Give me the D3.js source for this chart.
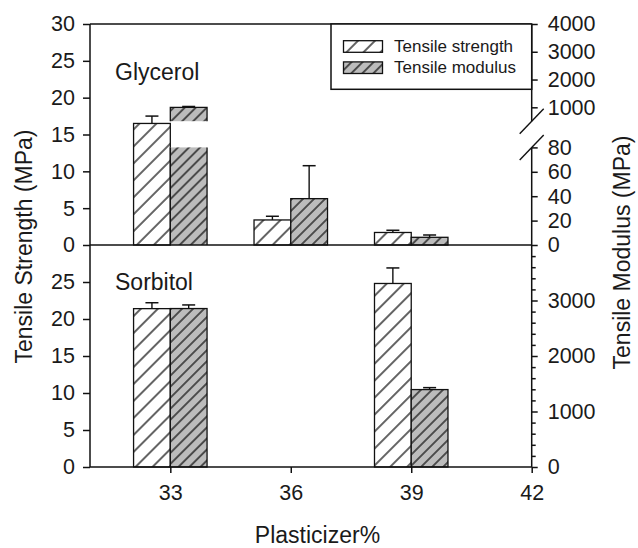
<!DOCTYPE html>
<html>
<head>
<meta charset="utf-8">
<script src="https://cdn.jsdelivr.net/npm/d3@7"></script>
<style>
  html, body { margin: 0; padding: 0; background: #fff; }
  svg text { font-family: "Liberation Sans", Arial, sans-serif; fill: #1a1a1a; }
</style>
</head>
<body>
<svg id="chart" width="638" height="548"></svg>
<script>
// ---- data ----
const plasticizer = [33, 36, 39];
const glyStrength = [16.5, 3.4, 1.7];
const glyStrengthErr = [1.0, 0.5, 0.3];
const glyModulus = [1000, 38, 6.3];
const glyModulusErr = [30, 27, 1.9];
const sorStrength = [21.4, null, 24.8];
const sorStrengthErr = [0.8, null, 2.1];
const sorModulus = [2855, null, 1395];
const sorModulusErr = [65, null, 35];

const xTickValues = [33, 36, 39, 42];
const strengthTicksTop = [0, 5, 10, 15, 20, 25, 30];
const strengthTicksBottom = [0, 5, 10, 15, 20, 25];
const modulusTicksTop = [0, 20, 40, 60, 80, 1000, 2000, 3000, 4000];
const modulusTicksBottom = [0, 1000, 2000, 3000];
const modulusMinorBottom = d3.range(200, 4000, 200).filter(v => v % 1000 !== 0);
const modulusBreak = [80, 500]; // axis break on the upper modulus axis
const seriesNames = ["Tensile strength", "Tensile modulus"];
const panelNames = ["Glycerol", "Sorbitol"];

// ---- layout ----
const svg = d3.select("#chart");
const left = 90, right = 531.7;
const topY = 24, midY = 245, botY = 467;

const x = d3.scaleLinear().domain([31, 42]).range([left, right]);
const barW = x(31.915) - x(31);

const yStrTop = d3.scaleLinear().domain([0, 30]).range([midY, topY]);
const yStrBot = d3.scaleLinear().domain([0, 30]).range([botY, midY]);
const yModBot = d3.scaleLinear().domain([0, 4000]).range([botY, midY]);
// broken axis: 0–80 on the lower part, 500–4000 on the upper part
const yModTop = d3.scaleLinear()
  .domain([0, modulusBreak[0], modulusBreak[1], 4000])
  .range([midY, midY - 97.6, midY - 123.8, topY]);

const fmt = d3.format("d");

// ---- hatch patterns ----
const defs = svg.append("defs");
function hatch(id, bg, spacing) {
  const p = defs.append("pattern")
    .attr("id", id).attr("patternUnits", "userSpaceOnUse")
    .attr("width", spacing).attr("height", spacing)
    .attr("patternTransform", "rotate(45)");
  p.append("rect").attr("width", spacing).attr("height", spacing).attr("fill", bg);
  p.append("line").attr("x1", spacing / 2).attr("x2", spacing / 2)
    .attr("y1", -1).attr("y2", spacing + 1)
    .attr("stroke", "#111").attr("stroke-width", 1.3);
}
hatch("hatchStrength", "#ffffff", 12);
hatch("hatchModulus", "#bcbcbc", 7.8);
const fills = ["url(#hatchStrength)", "url(#hatchModulus)"];

const gBars = svg.append("g");

function drawBar(x0, yBase, yTop, fill, gap) {
  const x1 = x0 + barW;
  if (!gap) {
    gBars.append("rect").attr("x", x0).attr("y", yTop)
      .attr("width", barW).attr("height", yBase - yTop)
      .attr("fill", fill).attr("stroke", "#111").attr("stroke-width", 1.3);
    return;
  }
  // bar passing through the axis break: two filled pieces, open at the break
  const [gLow, gHigh] = gap; // pixel y of lower / upper edge of the break
  gBars.append("rect").attr("x", x0).attr("y", gLow)
    .attr("width", barW).attr("height", yBase - gLow).attr("fill", fill);
  gBars.append("rect").attr("x", x0).attr("y", yTop)
    .attr("width", barW).attr("height", gHigh - yTop).attr("fill", fill);
  const p = d3.path();
  p.moveTo(x0, yBase); p.lineTo(x0, gLow);
  p.moveTo(x0, gHigh); p.lineTo(x0, yTop); p.lineTo(x1, yTop); p.lineTo(x1, gHigh);
  p.moveTo(x1, gLow); p.lineTo(x1, yBase);
  gBars.append("path").attr("d", p.toString()).attr("fill", "none")
    .attr("stroke", "#111").attr("stroke-width", 1.3);
}

function drawErr(cx, yTop, yErr) {
  gBars.append("line").attr("x1", cx).attr("x2", cx).attr("y1", yTop).attr("y2", yErr)
    .attr("stroke", "#111").attr("stroke-width", 1.4);
  gBars.append("line").attr("x1", cx - 6.5).attr("x2", cx + 6.5).attr("y1", yErr).attr("y2", yErr)
    .attr("stroke", "#111").attr("stroke-width", 1.5);
}

function drawPanel(strength, strengthErr, modulus, modulusErr, yS, yM, base, withBreak) {
  plasticizer.forEach((p, i) => {
    if (strength[i] != null) {
      const x0 = x(p) - barW;
      drawBar(x0, base, yS(strength[i]), fills[0], null);
      drawErr(x0 + barW / 2, yS(strength[i]), yS(strength[i] + strengthErr[i]));
    }
    if (modulus[i] != null) {
      const x0 = x(p);
      const broken = withBreak && modulus[i] > modulusBreak[0];
      drawBar(x0, base, yM(modulus[i]), fills[1],
        broken ? [yM(modulusBreak[0]), yM(modulusBreak[1])] : null);
      drawErr(x0 + barW / 2, yM(modulus[i]), yM(modulus[i] + modulusErr[i]));
    }
  });
}

drawPanel(glyStrength, glyStrengthErr, glyModulus, glyModulusErr, yStrTop, yModTop, midY, true);
drawPanel(sorStrength, sorStrengthErr, sorModulus, sorModulusErr, yStrBot, yModBot, botY, false);

// ---- axes ----
const axisStroke = 1.5;
function styleAxis(g, fontSize) {
  g.select(".domain").remove();
  g.selectAll(".tick line").attr("stroke", "#111").attr("stroke-width", axisStroke);
  g.selectAll(".tick text").style("font-size", fontSize + "px")
    .style("font-family", "'Liberation Sans', Arial, sans-serif").attr("fill", "#1a1a1a");
}

svg.append("g").attr("transform", `translate(${left},0)`)
  .call(d3.axisLeft(yStrTop).tickValues(strengthTicksTop).tickFormat(fmt).tickSize(7).tickPadding(8))
  .call(g => styleAxis(g, 21.5));
svg.append("g").attr("transform", `translate(${left},0)`)
  .call(d3.axisLeft(yStrBot).tickValues(strengthTicksBottom).tickFormat(fmt).tickSize(7).tickPadding(8))
  .call(g => styleAxis(g, 21.5));
svg.append("g").attr("transform", `translate(${right},0)`)
  .call(d3.axisRight(yModTop).tickValues(modulusTicksTop).tickFormat(fmt).tickSize(6).tickPadding(10))
  .call(g => styleAxis(g, 21.5));
svg.append("g").attr("transform", `translate(${right},0)`)
  .call(d3.axisRight(yModBot).tickValues(modulusTicksBottom).tickFormat(fmt).tickSize(6).tickPadding(10))
  .call(g => styleAxis(g, 21.5));
svg.append("g").attr("transform", `translate(${right},0)`)
  .call(d3.axisRight(yModBot).tickValues(modulusMinorBottom).tickSize(4).tickFormat(""))
  .call(g => styleAxis(g, 21.5));
svg.append("g").attr("transform", `translate(0,${botY})`)
  .call(d3.axisBottom(x).tickValues(xTickValues).tickFormat(fmt).tickSize(6).tickPadding(12))
  .call(g => styleAxis(g, 21.5));

// frame lines
const frame = svg.append("g").attr("stroke", "#111").attr("stroke-width", axisStroke).attr("fill", "none");
frame.append("line").attr("x1", left).attr("x2", right).attr("y1", topY).attr("y2", topY);
frame.append("line").attr("x1", left).attr("x2", right).attr("y1", midY).attr("y2", midY);
frame.append("line").attr("x1", left).attr("x2", right).attr("y1", botY).attr("y2", botY);
frame.append("line").attr("x1", left).attr("x2", left).attr("y1", topY).attr("y2", botY);
// right axis with break
const bLow = yModTop(modulusBreak[0]), bHigh = yModTop(modulusBreak[1]);
frame.append("line").attr("x1", right).attr("x2", right).attr("y1", topY).attr("y2", bHigh);
frame.append("line").attr("x1", right).attr("x2", right).attr("y1", bLow).attr("y2", botY);
[bHigh, bLow].forEach(yb => {
  frame.append("line").attr("x1", right - 12).attr("x2", right + 12)
    .attr("y1", yb + 12.5).attr("y2", yb - 12.5).attr("stroke-width", 1.4);
});

// ---- legend ----
const lx = 331, ly = topY, lw = right - 331, lh = 65.3;
const leg = svg.append("g");
leg.append("rect").attr("x", lx).attr("y", ly).attr("width", lw).attr("height", lh)
  .attr("fill", "#fff").attr("stroke", "#111").attr("stroke-width", axisStroke);
seriesNames.forEach((name, i) => {
  const sy = 40.7 + i * 21.2;
  leg.append("rect").attr("x", 343.5).attr("y", sy).attr("width", 39).attr("height", 11.6)
    .attr("fill", fills[i]).attr("stroke", "#111").attr("stroke-width", 1.3);
  leg.append("text").attr("x", 394).attr("y", sy + 11.2)
    .style("font-size", "17px").text(name);
});

// ---- panel labels and titles ----
svg.append("text").attr("x", 115).attr("y", 80).style("font-size", "23px").text(panelNames[0]);
svg.append("text").attr("x", 115).attr("y", 290).style("font-size", "23px").text(panelNames[1]);

svg.append("text").attr("transform", `translate(32,246.5) rotate(-90)`)
  .attr("text-anchor", "middle").style("font-size", "23px").text("Tensile Strength (MPa)");
svg.append("text").attr("transform", `translate(630,252.5) rotate(-90)`)
  .attr("text-anchor", "middle").style("font-size", "23px").text("Tensile Modulus (MPa)");
svg.append("text").attr("x", 317.5).attr("y", 543)
  .attr("text-anchor", "middle").style("font-size", "23px").text("Plasticizer%");
</script>
</body>
</html>
